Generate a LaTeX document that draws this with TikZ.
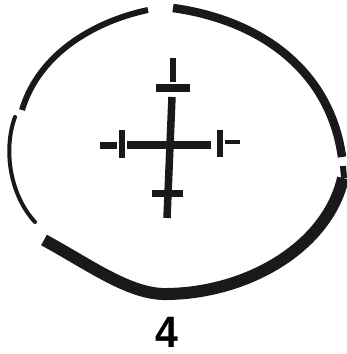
\documentclass[tikz,border=0pt]{standalone}
\usepackage{fontspec}
\setmainfont{Liberation Sans}
\begin{document}
\begin{tikzpicture}[x=1pt,y=-1pt,
  ink/.style={draw=black!90,line cap=round},
  bar/.style={ink,line width=7.5pt,line cap=butt}]
\useasboundingbox (0,0) rectangle (347,354);
% outline arcs
\draw[ink,line width=6pt,line cap=butt] (22,110) .. controls (40,50) and (100,20) .. (148,10);
\draw[ink,line width=8.5pt,line cap=butt] (173,8) .. controls (260,20) and (330,70) .. (342,157);
\draw[ink,line width=4pt] (15,117) .. controls (3,150) and (10,195) .. (35,222);
\draw[ink,line width=6pt,line cap=butt] (343,166) -- (344,178);
\draw[ink,line width=12pt,line cap=butt] (44,240) .. controls (90,265) and (130,295) .. (167,294) .. controls (250,293) and (328,245) .. (343,178);
% cross
\draw[bar] (127,145) -- (211,145);
\draw[bar] (172,97) -- (167,218);
\draw[bar,line width=6.5pt] (173,58) -- (173,82);
\draw[bar,line width=7.5pt] (156,88) -- (190,88);
\draw[bar,line width=5.5pt] (122,130) -- (122,158);
\draw[bar,line width=7pt] (100,145) -- (117,145);
\draw[bar,line width=5.5pt] (220,130) -- (220,157);
\draw[bar,line width=4pt] (225,142) -- (240,142);
\draw[bar,line width=7pt] (152,193) -- (183,193);
\node[font=\fontsize{44}{44}\selectfont\bfseries,inner sep=0pt,anchor=base] (lbl) at (166.5,347) {\scalebox{0.93}[1]{4}};
\end{tikzpicture}
\end{document}
